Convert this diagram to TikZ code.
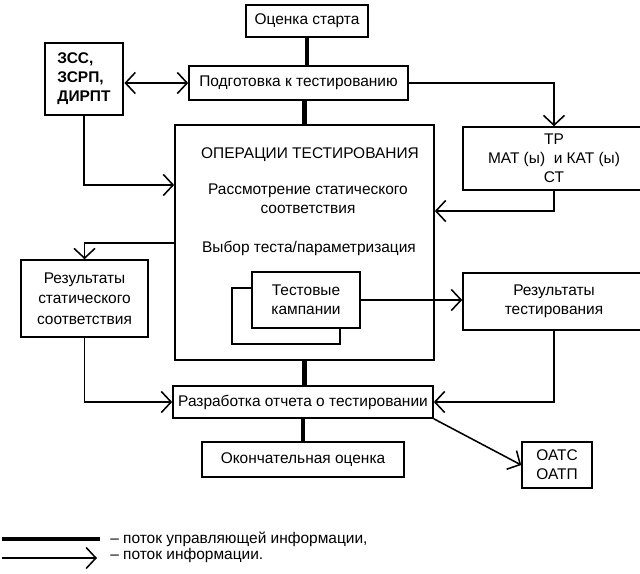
\documentclass[tikz,border=0pt]{standalone}
\usepackage{fontspec}
\setmainfont{Liberation Sans}
\usetikzlibrary{arrows.meta,positioning,calc}

\begin{document}
\begin{tikzpicture}[x=0.025cm,y=-0.025cm,>={Straight Barb[length=7pt,width=15pt]},
    font=\fontsize{11}{13.5}\selectfont,
    box/.style={draw,line width=1.1pt,fill=white,inner sep=1pt,align=center},
    ctrl/.style={line width=3.5pt},
    info/.style={->,line width=1.1pt}]

    \useasboundingbox (0,0) rectangle (640,574);

    % boxes
    \node[box,minimum width=3.05cm,minimum height=0.8cm] (start) at (307,21) {Оценка старта};
    \node[box,line width=2pt,minimum width=1.95cm,minimum height=1.8cm,align=left,font=\fontsize{11}{13.5}\selectfont\bfseries] (zss) at (84,79) {ЗСС,\\ЗСРП,\\ДИРПТ};
    \node[box,minimum width=5.475cm,minimum height=0.85cm,inner sep=0pt] (prep) at (298.5,83) {Подготовка к тестированию};
    \node[box,minimum width=6.475cm,minimum height=5.875cm] (ops) at (304.5,242.5) {};
    \node (opst) at (310,155) {ОПЕРАЦИИ ТЕСТИРОВАНИЯ};
    \node[align=center] (opsc) at (308,199) {Рассмотрение статического\\соответствия};
    \node (opsv) at (309,248) {Выбор теста/параметризация};
    \node[box,minimum width=2.7cm,minimum height=1.4cm] (campb) at (286,316) {};
    \node[box,minimum width=2.7cm,minimum height=1.4cm] (camp) at (306,300) {Тестовые\\кампании};
    \node[box,minimum width=4.55cm,minimum height=1.575cm] (tr) at (554,158.5) {ТР\\МАТ (ы) \ и КАТ (ы)\\СТ};
    \node[box,minimum width=3.175cm,minimum height=1.925cm] (res1) at (84.5,298.5) {Результаты\\[1pt]статического\\[1pt]соответствия};
    \node[box,minimum width=4.55cm,minimum height=1.425cm] (rest) at (554,301.5) {Результаты\\тестирования};
    \node[box,minimum width=6.5cm,minimum height=0.8cm,inner sep=0pt] (rep) at (303,402) {Разработка отчета о тестировании};
    \node[box,minimum width=5.05cm,minimum height=0.875cm] (fin) at (303,459.5) {Окончательная оценка};
    \node[box,minimum width=1.75cm,minimum height=1.15cm] (oat) at (557,465) {ОАТС\\ОАТП};

    % control flow
    \draw[ctrl] (start.south) -- (start.south |- prep.north);
    \draw[ctrl] (ops.north |- prep.south) -- (ops.north);
    \draw[ctrl] (ops.south) -- (ops.south |- rep.north);
    \draw[ctrl] (rep.south) -- (fin.north);

    % information flow
    \draw[info,<->] (zss.east |- prep) -- (prep.west);
    \draw[info] (prep.east) -| (tr.north);
    \draw[info] (tr.south) |- (ops.east |- 0,211);
    \draw[info] (zss.south) |- (ops.west |- 0,185);
    \draw[info] (ops.west |- 0,243) -| (res1.north);
    \draw[info] (res1.south) |- (rep.west);
    \draw[info] (camp.east) -- (camp.east -| rest.west);
    \draw[info] (rest.south) |- (rep.east);
    \draw[info] (rep.south east) -- (oat.west);

    % legend
    \coordinate (lg1a) at (2,539);
    \coordinate (lg1b) at (100,539);
    \coordinate (lg2a) at (2,558);
    \coordinate (lg2b) at (97,558);
    \draw[ctrl] (lg1a) -- (lg1b);
    \draw[info] (lg2a) -- (lg2b);
    \node[anchor=west,inner sep=0pt] (lgt1) at (110,539) {-- поток управляющей информации,};
    \node[anchor=west,inner sep=0pt] (lgt2) at (110,555) {-- поток информации.};

\end{tikzpicture}
\end{document}
